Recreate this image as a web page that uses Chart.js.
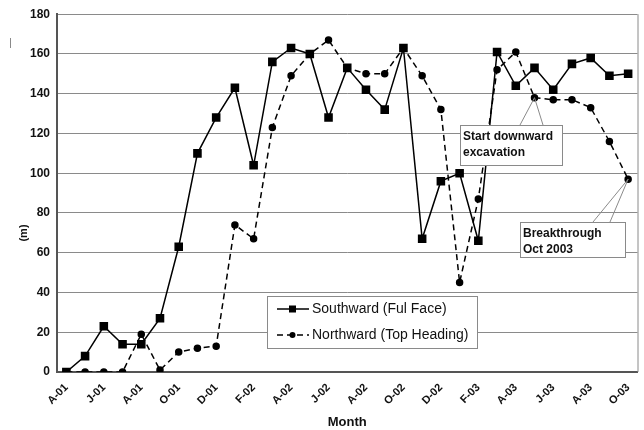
<!DOCTYPE html>
<html>
<head>
<meta charset="utf-8">
<script src="https://cdn.jsdelivr.net/npm/chart.js@4.4.0/dist/chart.umd.min.js"></script>
<style>
  html, body { margin: 0; padding: 0; background: #fff; }
</style>
</head>
<body>
<canvas id="grafico" width="644" height="430"></canvas>
<script>
const meses = ["A-01","M-01","J-01","J-01","A-01","S-01","O-01","N-01","D-01","J-02","F-02",
  "M-02","A-02","M-02","J-02","J-02","A-02","S-02","O-02","N-02","D-02","J-03","F-03",
  "M-03","A-03","M-03","J-03","J-03","A-03","S-03","O-03"];
const southward = [0, 8, 23, 14, 14, 27, 63, 110, 128, 143, 104, 156, 163, 160, 128, 153,
  142, 132, 163, 67, 96, 100, 66, 161, 144, 153, 142, 155, 158, 149, 150];
const northward = [0, 0, 0, 0, 19, 1, 10, 12, 13, 74, 67, 123, 149, 160, 167, 153,
  150, 150, 163, 149, 132, 45, 87, 152, 161, 138, 137, 137, 133, 116, 97];
const yMin = 0, yMax = 180, yPasso = 20;

const fonte = "'Liberation Sans', Arial, sans-serif";

function desenharNota(ctx, linhas, bx, by, bw, bh, px, py, ax1, ax2) {
  ctx.save();
  ctx.strokeStyle = "#8a8a8a";
  ctx.lineWidth = 1;
  ctx.beginPath();
  ctx.moveTo(ax1[0], ax1[1]); ctx.lineTo(px, py); ctx.lineTo(ax2[0], ax2[1]);
  ctx.stroke();
  ctx.fillStyle = "#fff";
  ctx.fillRect(bx, by, bw, bh);
  ctx.strokeRect(bx + 0.5, by + 0.5, bw, bh);
  ctx.fillStyle = "#111";
  ctx.font = "bold 12px " + fonte;
  ctx.textBaseline = "middle";
  ctx.textAlign = "left";
  linhas.forEach((t, i) => ctx.fillText(t, bx + 3, by + 12 + i * 16));
  ctx.restore();
}

const extras = {
  id: "extras",
  afterDraw(chart) {
    const { ctx, chartArea: area, scales: { x, y } } = chart;

    // borda direita
    ctx.save();
    ctx.strokeStyle = "#8a8a8a";
    ctx.lineWidth = 1;
    ctx.beginPath();
    ctx.moveTo(area.right + 0.5, area.top); ctx.lineTo(area.right + 0.5, area.bottom);
    ctx.stroke();
    // marca solta
    ctx.beginPath();
    ctx.moveTo(10.5, 38); ctx.lineTo(10.5, 48);
    ctx.stroke();

    // titulo eixo y
    ctx.fillStyle = "#111";
    ctx.font = "bold 11px " + fonte;
    ctx.translate(24, 233);
    ctx.rotate(-Math.PI / 2);
    ctx.textAlign = "center";
    ctx.textBaseline = "middle";
    ctx.fillText("(m)", 0, 0);
    ctx.restore();

    // legenda
    ctx.save();
    ctx.fillStyle = "#fff";
    ctx.fillRect(267, 296, 210, 52);
    ctx.strokeStyle = "#8a8a8a";
    ctx.lineWidth = 1;
    ctx.strokeRect(267.5, 296.5, 210, 52);
    chart.data.datasets.forEach((ds, i) => {
      const ly = 309 + i * 26;
      ctx.strokeStyle = "#000";
      ctx.lineWidth = 1.5;
      ctx.setLineDash(ds.borderDash || []);
      ctx.beginPath();
      ctx.moveTo(277, ly); ctx.lineTo(309, ly);
      ctx.stroke();
      ctx.setLineDash([]);
      ctx.fillStyle = "#000";
      if (ds.pointStyle === "rect") ctx.fillRect(289, ly - 3.5, 7, 7);
      else { ctx.beginPath(); ctx.arc(292.5, ly, 3, 0, Math.PI * 2); ctx.fill(); }
      ctx.fillStyle = "#111";
      ctx.font = "14px " + fonte;
      ctx.textBaseline = "middle";
      ctx.fillText(ds.label, 312, ly);
    });
    ctx.restore();

    // notas
    desenharNota(ctx, ["Start downward", "excavation"], 460, 125, 102, 40,
      x.getPixelForValue(25), y.getPixelForValue(northward[25]), [520, 125], [543, 125]);
    desenharNota(ctx, ["Breakthrough", "Oct 2003"], 520, 222, 105, 35,
      x.getPixelForValue(30), y.getPixelForValue(northward[30]), [593, 222], [610, 222]);
  }
};

const ctx = document.getElementById("grafico").getContext("2d");
new Chart(ctx, {
  type: "line",
  data: {
    labels: meses,
    datasets: [{
      label: "Southward (Ful Face)",
      data: southward,
      borderColor: "#000",
      backgroundColor: "#000",
      borderWidth: 1.5,
      pointStyle: "rect",
      pointRadius: 5,
      pointBackgroundColor: "#000",
      tension: 0
    }, {
      label: "Northward (Top Heading)",
      data: northward,
      borderColor: "#000",
      backgroundColor: "#000",
      borderWidth: 1.5,
      borderDash: [6, 4],
      pointStyle: "circle",
      pointRadius: 3,
      pointBackgroundColor: "#000",
      tension: 0
    }]
  },
  options: {
    responsive: false,
    animation: false,
    devicePixelRatio: 1,
    layout: { padding: { top: 13, right: 2, left: 0, bottom: 0 } },
    plugins: {
      legend: { display: false },
      tooltip: { enabled: false }
    },
    scales: {
      x: {
        offset: true,
        grid: { display: false },
        border: { color: "#555", width: 2 },
        ticks: {
          autoSkip: false,
          maxRotation: 45,
          minRotation: 45,
          padding: 1,
          color: "#111",
          font: { family: fonte, size: 11, weight: "bold" },
          callback: (v, i) => (i % 2 === 0 ? meses[i] : "")
        },
        title: {
          display: true,
          text: "Month",
          color: "#111",
          font: { family: fonte, size: 13, weight: "bold" },
          padding: { top: 0, bottom: 0 }
        },
        afterFit: (s) => { s.height = 58; }
      },
      y: {
        min: yMin,
        max: yMax,
        grid: { color: "#8a8a8a", lineWidth: 1, drawTicks: false },
        border: { color: "#555", width: 2 },
        ticks: {
          stepSize: yPasso,
          padding: 7,
          color: "#111",
          font: { family: fonte, size: 12, weight: "bold" }
        },
        afterFit: (s) => { s.width = 57; }
      }
    }
  },
  plugins: [extras]
});
</script>
</body>
</html>
